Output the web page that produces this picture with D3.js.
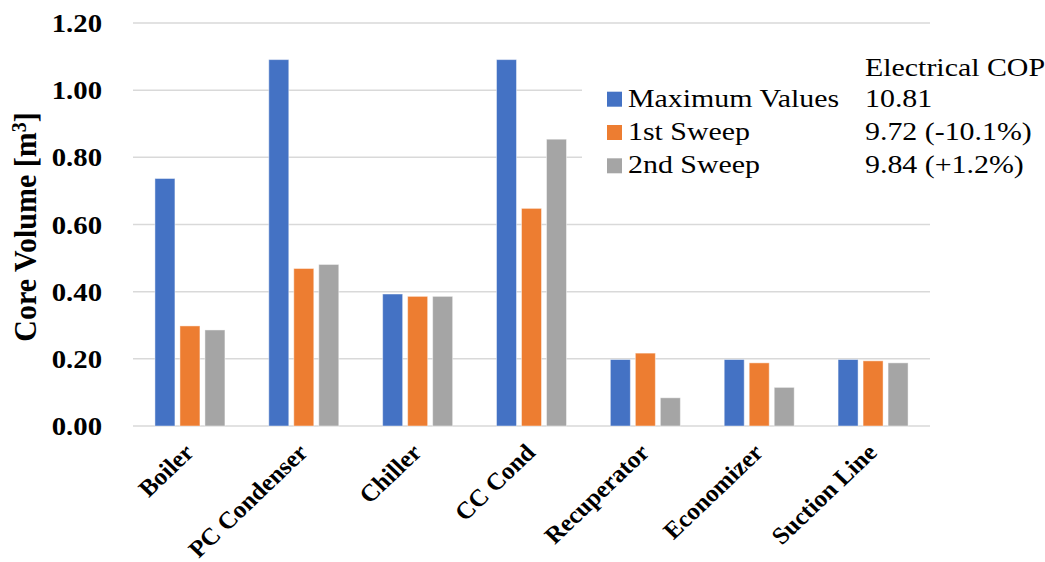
<!DOCTYPE html>
<html>
<head>
<meta charset="utf-8">
<script src="https://cdn.jsdelivr.net/npm/d3@7"></script>
<style>
  html, body { margin: 0; padding: 0; background: #fff; }
  svg { display: block; }
</style>
</head>
<body>
<svg id="chart" width="1045" height="562"></svg>
<script>
// Heat exchanger core volumes per design sweep
const categories = ["Boiler", "PC Condenser", "Chiller", "CC Cond", "Recuperator", "Economizer", "Suction Line"];
const seriesNames = ["Maximum Values", "1st Sweep", "2nd Sweep"];
const maxValues   = [0.737, 1.091, 0.393, 1.091, 0.198, 0.198, 0.198];
const sweep1      = [0.298, 0.469, 0.386, 0.648, 0.217, 0.188, 0.194];
const sweep2      = [0.286, 0.481, 0.386, 0.854, 0.084, 0.115, 0.188];
const copLabels   = ["10.81", "9.72 (-10.1%)", "9.84 (+1.2%)"];
const yTicks      = [0, 0.2, 0.4, 0.6, 0.8, 1.0, 1.2];
const colors      = ["#4472C4", "#ED7D31", "#A5A5A5"];

const seriesValues = [maxValues, sweep1, sweep2];
const FONT = "'Liberation Serif', 'Times New Roman', Times, serif";
const SX = 1.15; // horizontal glyph stretch

const svg = d3.select("#chart");
const plotLeft = 133, plotRight = 930, plotTop = 23, plotBottom = 426;

const x = d3.scaleBand().domain(categories).range([plotLeft, plotRight]).padding(0);
const xInner = d3.scaleBand().domain(seriesNames)
  .range([x.bandwidth() / 2 - 37.5, x.bandwidth() / 2 + 37.5])
  .paddingInner(0.2).paddingOuter(0.1);
const y = d3.scaleLinear().domain([0, 1.2]).range([plotBottom, plotTop]);

// gridlines
svg.append("g").selectAll("line").data(yTicks).join("line")
  .attr("x1", plotLeft).attr("x2", plotRight)
  .attr("y1", d => y(d)).attr("y2", d => y(d))
  .attr("stroke", "#D9D9D9").attr("stroke-width", 1.5);

// bars
const groups = svg.append("g").selectAll("g").data(categories).join("g")
  .attr("transform", d => `translate(${x(d)},0)`);
groups.selectAll("rect")
  .data((c, i) => seriesNames.map((s, k) => ({ s, k, v: seriesValues[k][i] })))
  .join("rect")
  .attr("x", d => xInner(d.s))
  .attr("width", xInner.bandwidth())
  .attr("y", d => y(d.v))
  .attr("height", d => y(0) - y(d.v))
  .attr("fill", d => colors[d.k])
  .attr("stroke", "#fff").attr("stroke-opacity", 0.45).attr("stroke-width", 1);

// y axis labels
const yAxis = svg.append("g").attr("transform", `translate(${plotLeft},0)`)
  .call(d3.axisLeft(y).tickValues(yTicks).tickFormat(d3.format(".2f")).tickSize(0));
yAxis.select(".domain").remove();
yAxis.selectAll("text")
  .attr("x", -31 / SX).attr("dy", "0.34em")
  .attr("transform", `scale(${SX},1)`)
  .style("font-family", FONT)
  .style("font-size", "25px").style("font-weight", "bold").style("fill", "#000");

// y axis title
const yt = svg.append("text")
  .attr("transform", `translate(36,227) scale(1.05,1) rotate(-90)`)
  .attr("text-anchor", "middle")
  .style("font-family", FONT)
  .style("font-size", "30px").style("font-weight", "bold");
yt.append("tspan").text("Core Volume [m");
yt.append("tspan").text("3").attr("dy", "-0.5em").style("font-size", "20px");
yt.append("tspan").text("]").attr("dy", "0.33em");

// category labels
svg.append("g").selectAll("text").data(categories).join("text")
  .attr("transform", d => `translate(${x(d) + x.bandwidth() / 2 - 1},448) scale(1.05,1) rotate(-45)`)
  .attr("text-anchor", "end")
  .attr("dy", "0.35em")
  .style("font-family", FONT)
  .style("font-size", "24px").style("font-weight", "bold")
  .text(d => d);

// legend panel
svg.append("rect").attr("x", 582).attr("y", 80).attr("width", 360).attr("height", 105).attr("fill", "#fff");
const rowY = [106.7, 140, 173.3];
const leg = svg.append("g").selectAll("g").data(seriesNames).join("g")
  .attr("transform", (d, i) => `translate(0,${rowY[i]})`);
leg.append("rect").attr("x", 607).attr("y", -15).attr("width", 15).attr("height", 15)
  .attr("fill", (d, i) => colors[i]);
leg.append("text")
  .attr("transform", `translate(628,0) scale(${SX},1)`)
  .style("font-family", FONT)
  .style("font-size", "26px")
  .text(d => d);

// COP column
svg.append("text")
  .attr("transform", `translate(865,76) scale(${SX},1)`)
  .style("font-family", FONT)
  .style("font-size", "26px").text("Electrical COP");
svg.append("g").selectAll("text").data(copLabels).join("text")
  .attr("transform", (d, i) => `translate(865,${rowY[i]}) scale(${SX},1)`)
  .style("font-family", FONT)
  .style("font-size", "26px")
  .text(d => d);
</script>
</body>
</html>
